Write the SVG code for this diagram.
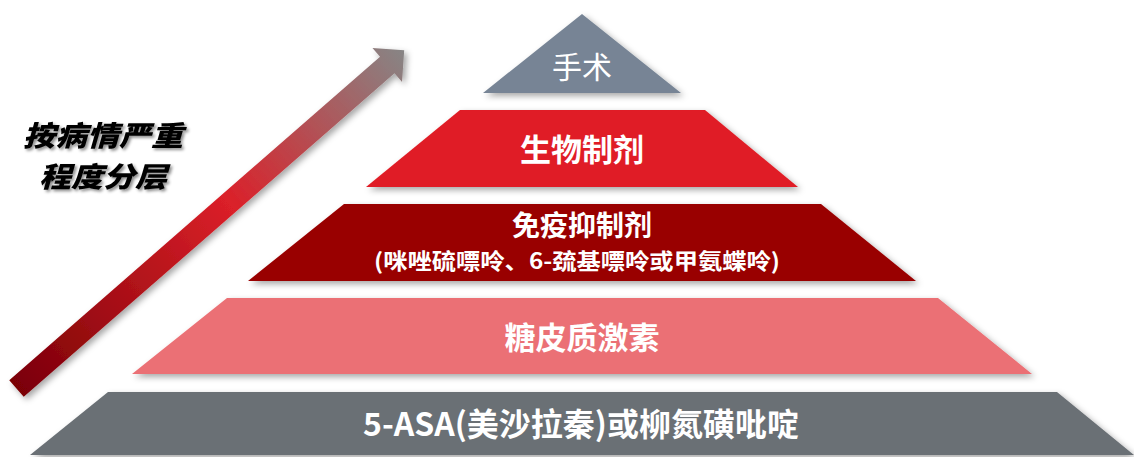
<svg xmlns="http://www.w3.org/2000/svg" width="1134" height="457" viewBox="0 0 1134 457">
<defs>
<filter id="sh" x="-10%" y="-20%" width="120%" height="150%">
<feDropShadow dx="3" dy="3" stdDeviation="3" flood-color="#000" flood-opacity="0.35"/>
</filter>
<filter id="tsh" x="-10%" y="-20%" width="130%" height="150%">
<feDropShadow dx="2" dy="2" stdDeviation="1.5" flood-color="#000" flood-opacity="0.45"/>
</filter>
<linearGradient id="ag" x1="0" y1="0" x2="514" y2="0" gradientUnits="userSpaceOnUse">
<stop offset="0" stop-color="#7a0006"/>
<stop offset="0.55" stop-color="#db2029"/>
<stop offset="1" stop-color="#878585"/>
</linearGradient>
</defs>
<style>
.cjk{font-family:"Noto Sans CJK SC","Liberation Sans",sans-serif;fill:#fff;text-anchor:middle}
.b{font-weight:bold}
.side{font-family:"Noto Sans CJK SC","Liberation Sans",sans-serif;font-weight:900;font-style:italic;font-size:28px;fill:#000;text-anchor:middle}
</style>
<rect width="1134" height="457" fill="#fff"/>

<g id="arrow" filter="url(#sh)">
<path transform="translate(16.5,388.5) rotate(-41.1)" d="M0,-11 L492,-11 L492,-22.5 L514.5,0 L492,22.5 L492,11 L0,11 Z" fill="url(#ag)"/>
</g>

<g id="label" filter="url(#tsh)">
<text class="side" x="103" y="146" textLength="160" lengthAdjust="spacingAndGlyphs">按病情严重</text>
<text class="side" x="103" y="187" textLength="128" lengthAdjust="spacingAndGlyphs">程度分层</text>
</g>

<g id="surgery">
<polygon points="582,14 681,93 483,93" fill="#778495" filter="url(#sh)"/>
<text class="cjk" x="582" y="78" font-size="30">手术</text>
</g>

<g id="biologics">
<polygon points="460,110 705,110 798,187 366,187" fill="#e01e26" filter="url(#sh)"/>
<text class="cjk b" x="582" y="161" font-size="31">生物制剂</text>
</g>

<g id="immuno">
<polygon points="344,204 821,204 916,281 248,281" fill="#990000" filter="url(#sh)"/>
<text class="cjk b" x="582" y="235.5" font-size="28">免疫抑制剂</text>
<text class="cjk b" x="577" y="269" font-size="22" textLength="406" lengthAdjust="spacingAndGlyphs">(咪唑硫嘌呤、6-巯基嘌呤或甲氨蝶呤)</text>
</g>

<g id="steroids">
<polygon points="227,298 938,298 1032,374 132,374" fill="#eb7075" filter="url(#sh)"/>
<text class="cjk b" x="582" y="349" font-size="31">糖皮质激素</text>
</g>

<g id="asa">
<polygon points="108,392 1057,392 1134,455 30,455" fill="#6a7075" filter="url(#sh)"/>
<text class="cjk b" x="581" y="436" font-size="32">5-ASA(美沙拉秦)或柳氮磺吡啶</text>
</g>

<g id="connectors"/>
</svg>
